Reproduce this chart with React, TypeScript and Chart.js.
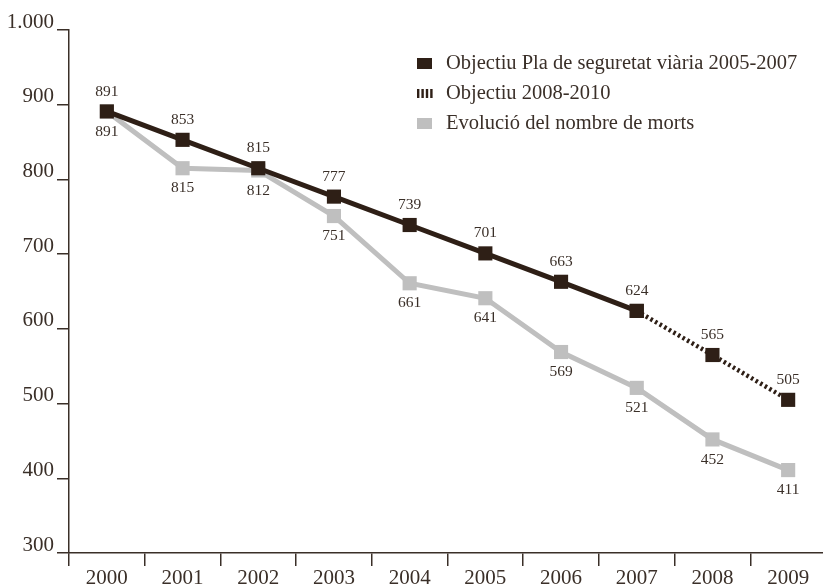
import React, { useEffect, useRef } from "react";
import { Chart, registerables } from "chart.js";

Chart.register(...registerables);

const years = ["2000", "2001", "2002", "2003", "2004", "2005", "2006", "2007", "2008", "2009"];
const objectiuPla = [891, 853, 815, 777, 739, 701, 663, 624, null, null];
const objectiu2008 = [null, null, null, null, null, null, null, 624, 565, 505];
const evolucio = [891, 815, 812, 751, 661, 641, 569, 521, 452, 411];
const legendLabels = [
  "Objectiu Pla de seguretat viària 2005-2007",
  "Objectiu 2008-2010",
  "Evolució del nombre de morts",
];

const DARK = "#2e1f16";
const GRAY = "#bfbfbf";
const TEXT = "#3a2f28";
const FONT = "'Liberation Serif', 'DejaVu Serif', serif";

const fmt = (v: number) => (v >= 1000 ? String(v).replace(/(\d)(\d{3})$/, "$1.$2") : String(v));

const labelsPlugin = {
  id: "valueLabels",
  afterDatasetsDraw(chart: any) {
    const ctx = chart.ctx;
    ctx.save();
    ctx.font = `15.5px ${FONT}`;
    ctx.fillStyle = TEXT;
    ctx.textAlign = "center";
    ctx.textBaseline = "middle";
    chart.data.datasets.forEach((ds: any, di: number) => {
      const meta = chart.getDatasetMeta(di);
      ds.data.forEach((v: number | null, i: number) => {
        if (v == null) return;
        if (di === 1 && i === 7) return;
        const pt = meta.data[i];
        const below = di === 2;
        ctx.fillText(String(v), pt.x, pt.y + (below ? 20 : -20));
      });
    });
    ctx.restore();
  },
};

const legendPlugin = {
  id: "customLegend",
  afterDraw(chart: any) {
    const ctx = chart.ctx;
    ctx.save();
    const mx = 417;
    const tx = 446;
    const rows = [63, 93, 123];
    ctx.fillStyle = DARK;
    ctx.fillRect(mx, rows[0] - 5, 15, 11);
    for (let k = 0; k < 4; k++) {
      ctx.fillRect(mx + k * 4.4, rows[1] - 4, 2.4, 9);
    }
    ctx.fillStyle = GRAY;
    ctx.fillRect(mx, rows[2] - 5, 15, 11);
    ctx.fillStyle = TEXT;
    ctx.font = `20.5px ${FONT}`;
    ctx.textAlign = "left";
    ctx.textBaseline = "middle";
    legendLabels.forEach((t, i) => ctx.fillText(t, tx, rows[i] + 1));
    ctx.restore();
  },
};

export default function App() {
  const ref = useRef<HTMLCanvasElement>(null);
  useEffect(() => {
    if (!ref.current) return;
    const chart = new Chart(ref.current, {
      type: "line",
      data: {
        labels: years,
        datasets: [
          {
            label: legendLabels[0],
            data: objectiuPla,
            borderColor: DARK,
            backgroundColor: DARK,
            borderWidth: 5,
            pointStyle: "rect",
            pointRadius: 10,
            pointBorderWidth: 0,
            pointBackgroundColor: DARK,
            spanGaps: false,
          },
          {
            label: legendLabels[1],
            data: objectiu2008,
            borderColor: DARK,
            backgroundColor: DARK,
            borderWidth: 4.5,
            borderDash: [2.5, 2.8],
            pointStyle: "rect",
            pointRadius: 10,
            pointBorderWidth: 0,
            pointBackgroundColor: DARK,
          },
          {
            label: legendLabels[2],
            data: evolucio,
            borderColor: GRAY,
            backgroundColor: GRAY,
            borderWidth: 5,
            pointStyle: "rect",
            pointRadius: 10,
            pointBorderWidth: 0,
            pointBackgroundColor: GRAY,
          },
        ],
      },
      options: {
        responsive: false,
        animation: false,
        devicePixelRatio: 1,
        layout: { padding: { top: 30, right: 1, left: 0, bottom: 0 } },
        plugins: {
          legend: { display: false },
          tooltip: { enabled: false },
        },
        scales: {
          x: {
            offset: true,
            grid: {
              offset: true,
              drawOnChartArea: false,
              drawTicks: true,
              tickLength: 13,
              color: TEXT,
              lineWidth: 1.5,
            },
            border: { color: TEXT, width: 1.5 },
            ticks: {
              color: TEXT,
              font: { family: FONT, size: 21 },
              padding: 0,
              maxRotation: 0,
            },
            afterFit(scale: any) {
              scale.height = 33;
            },
          },
          y: {
            min: 300,
            max: 1000,
            grid: {
              drawOnChartArea: false,
              drawTicks: true,
              tickLength: 12,
              color: TEXT,
              lineWidth: 1.5,
            },
            border: { color: TEXT, width: 1.5 },
            ticks: {
              stepSize: 100,
              color: TEXT,
              font: { family: FONT, size: 21 },
              padding: 3,
              labelOffset: -8,
              callback: (v: any) => fmt(Number(v)),
            },
            afterFit(scale: any) {
              scale.width = 69;
            },
          },
        },
      },
      plugins: [labelsPlugin, legendPlugin],
    } as any);
    return () => chart.destroy();
  }, []);
  return (
    <div style={{ position: "fixed", left: 0, top: 0, width: 823, height: 586, overflow: "hidden", background: "#fff" }}>
      <canvas ref={ref} width={836} height={586} style={{ width: 836, height: 586, display: "block" }} />
    </div>
  );
}
